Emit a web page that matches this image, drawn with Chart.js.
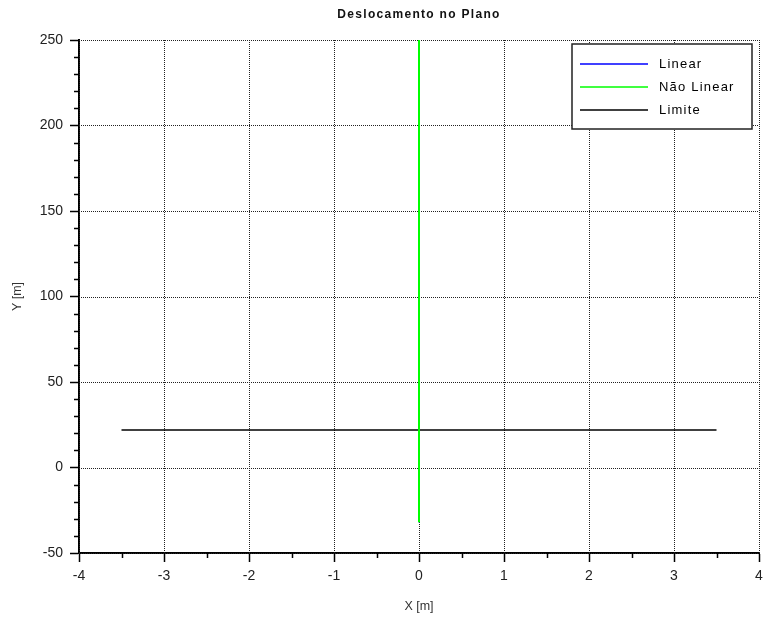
<!DOCTYPE html>
<html>
<head>
<meta charset="utf-8">
<script src="https://cdn.jsdelivr.net/npm/chart.js@4/dist/chart.umd.min.js"></script>
<style>
  html, body { margin: 0; padding: 0; background: #ffffff; }
  #wrap { width: 765px; height: 620px; }
</style>
</head>
<body>
<div id="wrap"><canvas id="plot" width="765" height="620"></canvas></div>
<script>
// Text
const titleText = 'Deslocamento no Plano';
const xAxisLabel = 'X [m]';
const yAxisLabel = 'Y [m]';
const seriesNames = ['Linear', 'Não Linear', 'Limite'];
const seriesColors = ['#0000ff', '#00ff00', '#000000'];

// Trajectories
const linearX = [0, 0];
const linearY = [-32, 250];
const naoLinearX = [0, 0];
const naoLinearY = [-32, 250];
const limiteX = [-3.5, 3.5];
const limiteY = [22, 22];

// Axes
const xTicks = [-4, -3, -2, -1, 0, 1, 2, 3, 4];
const yTicks = [-50, 0, 50, 100, 150, 200, 250];
const xMinorStep = 0.5;
const yMinorStep = 10;

const toPoints = (xs, ys) => xs.map((x, i) => ({ x: x, y: ys[i] }));

const TICK_FONT = { family: "'Liberation Sans', Arial, sans-serif", size: 14 };
const LABEL_FONT = { family: "'Liberation Sans', Arial, sans-serif", size: 12.5 };

// Dotted grid at every major tick, full plot frame included
const dottedGrid = {
  id: 'dottedGrid',
  beforeDatasetsDraw(chart) {
    const { ctx, chartArea: a, scales: { x, y } } = chart;
    ctx.save();
    ctx.strokeStyle = '#222';
    ctx.lineWidth = 1;
    ctx.setLineDash([1, 1]);
    xTicks.forEach(v => {
      const px = Math.round(x.getPixelForValue(v)) + 0.5;
      ctx.beginPath(); ctx.moveTo(px, a.top); ctx.lineTo(px, a.bottom); ctx.stroke();
    });
    yTicks.forEach(v => {
      const py = Math.round(y.getPixelForValue(v)) + 0.5;
      ctx.beginPath(); ctx.moveTo(a.left, py); ctx.lineTo(a.right, py); ctx.stroke();
    });
    ctx.restore();
  }
};

// Minor tick marks, title and boxed legend
const decorations = {
  id: 'decorations',
  afterDraw(chart) {
    const { ctx, chartArea: a, scales: { x, y } } = chart;
    ctx.save();
    ctx.strokeStyle = '#000';
    ctx.lineWidth = 1.5;
    for (let v = xTicks[0]; v <= xTicks[xTicks.length - 1] + 1e-9; v += xMinorStep) {
      if (xTicks.includes(Math.round(v * 1000) / 1000)) continue;
      const px = Math.round(x.getPixelForValue(v)) + 0.5;
      ctx.beginPath(); ctx.moveTo(px, a.bottom); ctx.lineTo(px, a.bottom + 5); ctx.stroke();
    }
    for (let v = yTicks[0]; v <= yTicks[yTicks.length - 1] + 1e-9; v += yMinorStep) {
      if (yTicks.includes(v)) continue;
      const py = Math.round(y.getPixelForValue(v)) + 0.5;
      ctx.beginPath(); ctx.moveTo(a.left - 5, py); ctx.lineTo(a.left, py); ctx.stroke();
    }

    // Title
    ctx.fillStyle = '#111';
    ctx.font = "bold 12px 'Liberation Sans', Arial, sans-serif";
    ctx.letterSpacing = '1.3px';
    ctx.textAlign = 'center';
    ctx.textBaseline = 'middle';
    ctx.fillText(titleText, (a.left + a.right) / 2, 15);

    // Legend box
    const bw = 180, bh = 85;
    const bx = a.right - 7 - bw, by = a.top + 4;
    ctx.fillStyle = '#fff';
    ctx.fillRect(bx, by, bw, bh);
    ctx.setLineDash([]);
    ctx.strokeStyle = '#222';
    ctx.lineWidth = 1.5;
    ctx.strokeRect(bx, by, bw, bh);
    ctx.font = "500 13px 'Liberation Sans', Arial, sans-serif";
    ctx.letterSpacing = '1.2px';
    ctx.textAlign = 'left';
    chart.data.datasets.forEach((ds, i) => {
      const ly = by + 20 + i * 23;
      ctx.strokeStyle = ds.borderColor;
      ctx.lineWidth = 1.5;
      ctx.beginPath(); ctx.moveTo(bx + 8, ly); ctx.lineTo(bx + 76, ly); ctx.stroke();
      ctx.fillStyle = '#000';
      ctx.fillText(ds.label, bx + 87, ly);
    });
    ctx.restore();
  }
};

const commonScale = (label) => ({
  type: 'linear',
  grid: {
    drawOnChartArea: false,
    drawTicks: true,
    tickLength: 9,
    tickColor: '#000',
    tickWidth: 1.5
  },
  border: { display: true, color: '#000', width: 2 },
  ticks: { color: '#222', font: TICK_FONT, padding: 4, maxRotation: 0, autoSkip: false },
  title: { display: true, text: label, color: '#333', font: LABEL_FONT }
});

const xScale = commonScale(xAxisLabel);
xScale.min = xTicks[0];
xScale.max = xTicks[xTicks.length - 1];
xScale.afterBuildTicks = s => { s.ticks = xTicks.map(v => ({ value: v })); };
xScale.afterFit = s => { s.height = 67; s.paddingLeft = 0; s.paddingRight = 0; };
xScale.title.padding = { top: 0, bottom: 6 };
xScale.ticks.padding = 6;

const yScale = commonScale(yAxisLabel);
yScale.min = yTicks[0];
yScale.max = yTicks[yTicks.length - 1];
yScale.afterBuildTicks = s => { s.ticks = yTicks.map(v => ({ value: v })); };
yScale.afterFit = s => { s.width = 79; s.paddingTop = 0; s.paddingBottom = 0; };
yScale.title.padding = { top: 10, bottom: 0 };
yScale.ticks.padding = 7;

new Chart(document.getElementById('plot'), {
  type: 'scatter',
  data: {
    datasets: [
      { label: seriesNames[0], data: toPoints(linearX, linearY), borderColor: seriesColors[0],
        showLine: true, borderWidth: 1.5, pointRadius: 0, order: 3 },
      { label: seriesNames[1], data: toPoints(naoLinearX, naoLinearY), borderColor: seriesColors[1],
        showLine: true, borderWidth: 2, pointRadius: 0, order: 1 },
      { label: seriesNames[2], data: toPoints(limiteX, limiteY), borderColor: seriesColors[2],
        showLine: true, borderWidth: 1.5, pointRadius: 0, order: 2 }
    ]
  },
  options: {
    responsive: false,
    animation: false,
    devicePixelRatio: 1,
    layout: { padding: { top: 40, right: 6, left: 0, bottom: 0 } },
    plugins: { legend: { display: false }, title: { display: false }, tooltip: { enabled: false } },
    scales: { x: xScale, y: yScale }
  },
  plugins: [dottedGrid, decorations]
});
</script>
</body>
</html>
